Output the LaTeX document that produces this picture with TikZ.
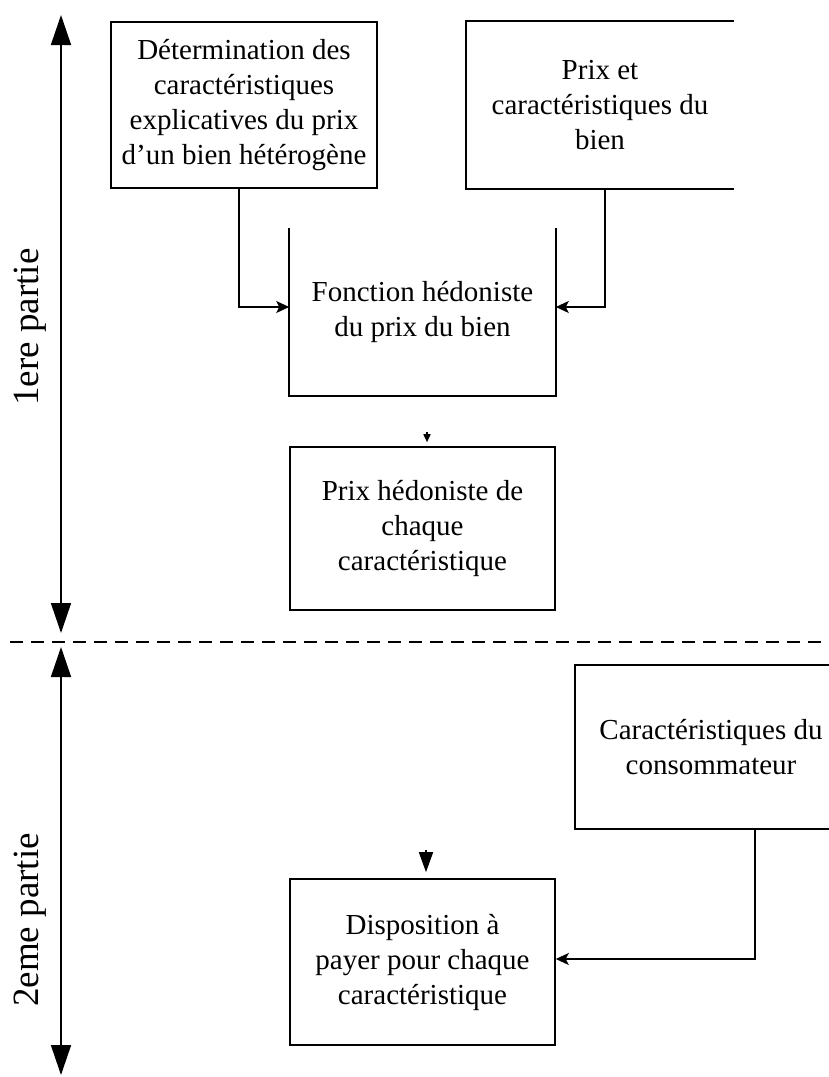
\documentclass[tikz,border=0pt]{standalone}
\usepackage{fontspec}
\setmainfont{Liberation Serif}
\usetikzlibrary{arrows.meta}

\begin{document}
\begin{tikzpicture}[x=1pt, y=-1pt, line width=1.6pt, font=\fontsize{29}{35}\selectfont]
	\tikzstyle{box}=[inner sep=0pt, align=center, minimum width=266pt, minimum height=166pt]
	\tikzstyle{link}=[-{Stealth[length=13pt,width=12pt,inset=3pt]}]
	\tikzstyle{axis}=[{Triangle[length=30pt,width=20pt]}-{Triangle[length=30pt,width=20pt]}]
	\tikzstyle{part}=[rotate=90, font=\fontsize{37}{40}\selectfont]
	
	\useasboundingbox (0,0) rectangle (829,1077);
	
	\node[box, draw] (det) at (244,105) {Détermination des\\caractéristiques\\explicatives du prix\\d’un bien hétérogène};
	\node[box] (prixbien) at (600,105) {Prix et\\caractéristiques du\\bien};
	\node[box, minimum width=265pt] (fonc) at (422.5,312) {Fonction hédoniste\\du prix du bien};
	\node[box, draw, minimum width=265pt, minimum height=163pt] (prixhed) at (422.5,528.5) {Prix hédoniste de\\chaque\\caractéristique};
	\node[box, minimum width=270pt, minimum height=162pt] (conso) at (711,747) {Caractéristiques du\\consommateur};
	\node[box, draw, minimum width=265pt] (dispo) at (422.5,962) {Disposition à\\payer pour chaque\\caractéristique};
	
	\draw (prixbien.north east) -- (prixbien.north west) -- (prixbien.south west) -- (prixbien.south east);
	\draw (fonc.north west) -- (fonc.south west) -- (fonc.south east) -- (fonc.north east);
	\coordinate (rim) at (829,0);
	\draw (conso.north west -| rim) -- (conso.north west) -- (conso.south west) -- (conso.south west -| rim);
	
	\draw[link] ([xshift=-5pt]det.south) |- ([yshift=5pt]fonc.west);
	\draw[link] ([xshift=5pt]prixbien.south) |- ([yshift=5pt]fonc.east);
	\draw[link] ([xshift=44pt]conso.south) |- ([yshift=3pt]dispo.east);
	
	\coordinate (hedin) at (427,432);
	\draw[-{Triangle[length=8pt,width=7pt]}] (hedin) -- ([xshift=4.5pt,yshift=4pt]prixhed.north);
	\coordinate (dispoin) at (426,850);
	\draw[-{Triangle[length=20pt,width=14pt]}] (dispoin) -- ([xshift=3.5pt,yshift=6pt]dispo.north);
	
	\coordinate (top1) at (61,15);
	\coordinate (bot1) at (61,633);
	\coordinate (top2) at (61,647);
	\coordinate (bot2) at (61,1075);
	\draw[axis] (top1) -- (bot1);
	\draw[axis] (top2) -- (bot2);
	
	\coordinate (cutl) at (10,642);
	\coordinate (cutr) at (829,642);
	\draw[line width=2.4pt, dash pattern=on 13pt off 8pt] (cutl) -- (cutr);
	
	\node[part] (part1) at (30,327) {1ere partie};
	\node[part] (part2) at (30,920) {2eme partie};
\end{tikzpicture}
\end{document}
